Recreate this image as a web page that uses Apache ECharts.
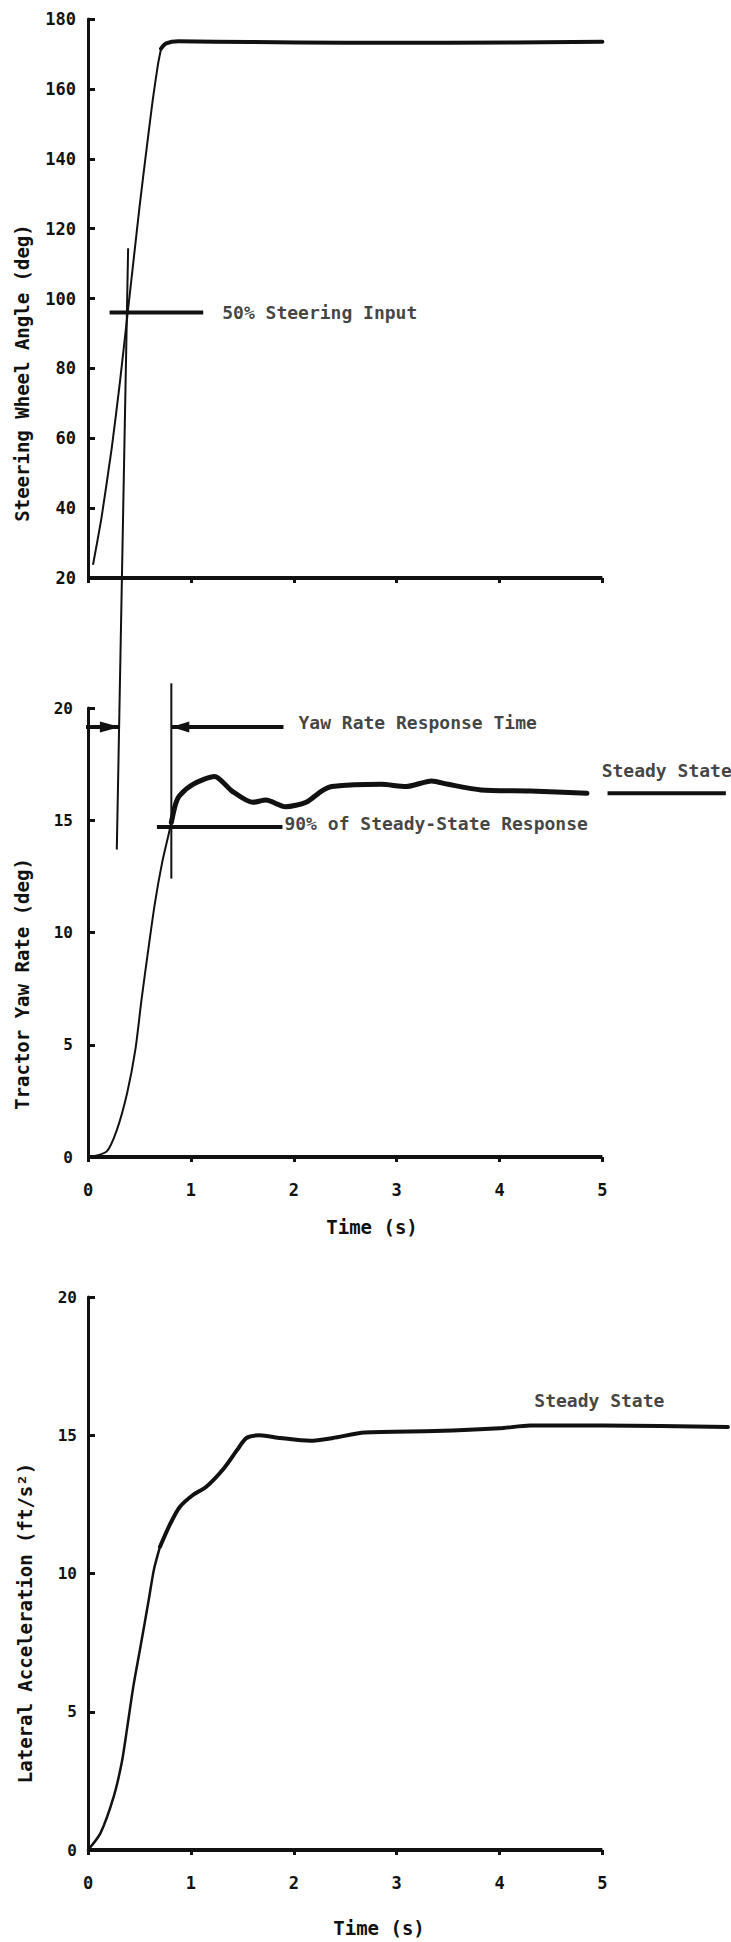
<!DOCTYPE html>
<html><head><meta charset="utf-8">
<script src="https://cdn.jsdelivr.net/npm/echarts@6/dist/echarts.min.js"></script>
<style>html,body{margin:0;padding:0;background:#fff}#c{width:731px;height:1942px}</style>
</head><body><div id="c"></div>
<script>
// ---- data ----
const timeTicks = [0, 1, 2, 3, 4, 5];
const timeRangeMax = 6.25;          // curves run past the last labelled tick
const steerTicks = [20, 40, 60, 80, 100, 120, 140, 160, 180];
const rateTicks = [0, 5, 10, 15, 20];

// Steering wheel angle (deg) vs time (s)
const steerTime  = [0.05, 0.13, 0.23, 0.31, 0.39, 0.50, 0.57, 0.63, 0.68, 0.71, 0.76, 0.88, 1.58, 2.5, 3.5, 5.0];
const steerAngle = [24, 37, 57, 76, 97, 126, 143, 157, 167, 171.5, 173, 173.6, 173.4, 173.2, 173.2, 173.5];
const steerSplit = 9;

// Tractor yaw rate (deg) vs time (s)
const yawTime = [0, 0.18, 0.28, 0.38, 0.46, 0.52, 0.59, 0.65, 0.72, 0.78, 0.81, 0.85, 0.89, 1.02, 1.23, 1.40, 1.60, 1.73, 1.92, 2.12, 2.27, 2.37, 2.85, 3.09, 3.34, 3.50, 3.82, 4.30, 4.85];
const yawRate = [0, 0.24, 1.2, 2.84, 4.77, 7.0, 9.37, 11.3, 13.1, 14.3, 14.9, 15.7, 16.1, 16.6, 16.95, 16.3, 15.8, 15.9, 15.6, 15.8, 16.3, 16.5, 16.6, 16.5, 16.75, 16.6, 16.35, 16.3, 16.2];
const yawSplit = 10;

// Lateral acceleration (ft/s^2) vs time (s)
const accTime = [0, 0.12, 0.25, 0.33, 0.38, 0.44, 0.51, 0.59, 0.64, 0.70, 0.80, 0.89, 1.02, 1.15, 1.32, 1.45, 1.54, 1.67, 1.87, 2.16, 2.38, 2.69, 3.37, 4.0, 4.3, 5.0, 6.22];
const accVal  = [0, 0.6, 1.93, 3.2, 4.4, 5.9, 7.35, 9.04, 10.13, 10.97, 11.8, 12.4, 12.84, 13.14, 13.8, 14.47, 14.9, 15.0, 14.9, 14.8, 14.9, 15.1, 15.15, 15.25, 15.35, 15.35, 15.3];
const accSplit = 9;

// Annotations (data units)
const halfSteerLevel = 96, halfSteerSpan = [0.21, 1.12];
const halfSteerMarkTop = [0.39, 114.4];   // on steering chart
const halfSteerMarkBottom = [0.28, 13.7]; // on yaw chart
const yaw90Level = 14.7, yaw90Span = [0.67, 1.89];
const responseTime = 0.81, responseSpan = [21.1, 12.4];
const arrowLevel = 19.15, leftArrowSpan = [-0.1, 0.31], rightArrowSpan = [1.9, 0.81];
const yawSteady = 16.2, yawSteadySpan = [5.05, 6.2];
const accSteadyLabelAt = [4.97, 16.27];

const labels = {
  half: '50% Steering Input',
  resp: 'Yaw Rate Response Time',
  ninety: '90% of Steady-State Response',
  steady: 'Steady State'
};

// ---- chart ----
const FONT = '"DejaVu Sans Mono", monospace';
const INK = '#111';
const zip = (a, b) => a.map((v, i) => [v, b[i]]);

function xAxisCfg(grid, showLabels) {
  return {
    type: 'value', gridIndex: grid, min: 0, max: timeRangeMax,
    axisLine: { show: false },
    axisTick: { show: true, inside: false, length: 5, customValues: timeTicks, lineStyle: { color: INK, width: 3 } },
    axisLabel: { show: showLabels, customValues: timeTicks, color: INK, fontFamily: FONT, fontSize: 17, fontWeight: 'bold', margin: 24 },
    splitLine: { show: false }
  };
}
function yAxisCfg(grid, ticks, interval, fs, margin) {
  return {
    type: 'value', gridIndex: grid, min: ticks[0], max: ticks[ticks.length - 1], interval: interval,
    axisLine: { show: true, lineStyle: { color: INK, width: 3 } },
    axisTick: { show: true, inside: true, length: 7, lineStyle: { color: INK, width: 3 } },
    axisLabel: { color: INK, fontFamily: FONT, fontSize: fs, fontWeight: 'bold', margin: margin },
    splitLine: { show: false }
  };
}
function curve(grid, data, width, smooth) {
  return {
    type: 'line', xAxisIndex: grid, yAxisIndex: grid, data: data,
    showSymbol: false, symbol: 'none', smooth: smooth, clip: false, silent: true,
    lineStyle: { color: INK, width: width, cap: 'round', join: 'round' }, z: 3
  };
}
function seg(grid, data, width) {
  return {
    type: 'line', xAxisIndex: grid, yAxisIndex: grid, data: data,
    showSymbol: true, symbol: 'none', clip: false, silent: true,
    itemStyle: { color: INK },
    lineStyle: { color: INK, width: width }, z: 4
  };
}
function textAt(grid, pt, text, position, distance, offset) {
  return {
    type: 'scatter', xAxisIndex: grid, yAxisIndex: grid, data: [pt],
    symbolSize: 0, clip: false, silent: true, itemStyle: { color: 'transparent' },
    label: {
      show: true, formatter: text, position: position, distance: distance, offset: offset || [0, 0],
      color: INK, fontFamily: FONT, fontSize: 18, fontWeight: 'bold'
    }, z: 5
  };
}
const tEnd = timeTicks[timeTicks.length - 1];

const chart = echarts.init(document.getElementById('c'), null, { renderer: 'svg' });

const option = {
  backgroundColor: '#fff',
  animation: false,
  grid: [
    { left: 88, top: 19, width: 643, height: 559, outerBoundsMode: 'none' },
    { left: 88, top: 708, width: 643, height: 449, outerBoundsMode: 'none' },
    { left: 88, top: 1297, width: 643, height: 553, outerBoundsMode: 'none' }
  ],
  xAxis: [xAxisCfg(0, false), xAxisCfg(1, true), xAxisCfg(2, true)],
  yAxis: [
    yAxisCfg(0, steerTicks, 20, 17, 12),
    yAxisCfg(1, rateTicks, 5, 16, 15),
    yAxisCfg(2, rateTicks, 5, 16, 11)
  ],
  series: [
    // steering chart
    seg(0, [[0, steerTicks[0]], [tEnd, steerTicks[0]]], 4),
    curve(0, zip(steerTime.slice(0, steerSplit + 1), steerAngle.slice(0, steerSplit + 1)), 2, 0.15),
    curve(0, zip(steerTime.slice(steerSplit), steerAngle.slice(steerSplit)), 4, 0.3),
    seg(0, [[halfSteerSpan[0], halfSteerLevel], [halfSteerSpan[1], halfSteerLevel]], 4),
    textAt(0, [halfSteerSpan[1], halfSteerLevel], labels.half, 'right', 19),

    // yaw chart
    seg(1, [[0, rateTicks[0]], [tEnd, rateTicks[0]]], 4),
    curve(1, zip(yawTime.slice(0, yawSplit + 1), yawRate.slice(0, yawSplit + 1)), 2, 0.25),
    curve(1, zip(yawTime.slice(yawSplit), yawRate.slice(yawSplit)), 5, 0.25),
    seg(1, [[yaw90Span[0], yaw90Level], [yaw90Span[1], yaw90Level]], 4),
    textAt(1, [yaw90Span[1], yaw90Level], labels.ninety, 'right', 2, [0, -3]),
    seg(1, [[responseTime, responseSpan[0]], [responseTime, responseSpan[1]]], 2),
    seg(1, [
      [leftArrowSpan[0], arrowLevel],
      { value: [leftArrowSpan[1], arrowLevel], symbol: 'triangle', symbolSize: [11, 20], symbolRotate: -90, symbolOffset: [-10, 0] }
    ], 4),
    seg(1, [
      [rightArrowSpan[0], arrowLevel],
      { value: [rightArrowSpan[1], arrowLevel], symbol: 'triangle', symbolSize: [11, 18], symbolRotate: 90, symbolOffset: [9, 0] }
    ], 4),
    textAt(1, [rightArrowSpan[0], arrowLevel], labels.resp, 'right', 15, [0, -5]),
    seg(1, [[yawSteadySpan[0], yawSteady], [yawSteadySpan[1], yawSteady]], 4),
    textAt(1, [(yawSteadySpan[0] + yawSteadySpan[1]) / 2, yawSteady], labels.steady, 'top', 14),

    // lateral acceleration chart
    seg(2, [[0, rateTicks[0]], [tEnd, rateTicks[0]]], 4),
    curve(2, zip(accTime.slice(0, accSplit + 1), accVal.slice(0, accSplit + 1)), 2.5, 0.25),
    curve(2, zip(accTime.slice(accSplit), accVal.slice(accSplit)), 4, 0.25),
    textAt(2, accSteadyLabelAt, labels.steady, 'inside', 0)
  ]
};
chart.setOption(option);

// slanted 50%-steering time marker spanning both upper charts, placed through the axes' scales
const pTop = chart.convertToPixel({ gridIndex: 0 }, halfSteerMarkTop);
const pBot = chart.convertToPixel({ gridIndex: 1 }, halfSteerMarkBottom);

function axisName(text, x, y, rot) {
  return {
    type: 'text', x: x, y: y, rotation: rot, silent: true,
    style: { text: text, fill: INK, font: 'bold 19px ' + FONT, textAlign: 'center', textVerticalAlign: 'middle' }
  };
}

chart.setOption({
  graphic: [
    { type: 'line', silent: true, z: 4,
      shape: { x1: pTop[0], y1: pTop[1], x2: pBot[0], y2: pBot[1] },
      style: { stroke: INK, lineWidth: 2 } },
    axisName('Steering Wheel Angle (deg)', 22, 373, Math.PI / 2),
    axisName('Tractor Yaw Rate (deg)', 22, 984, Math.PI / 2),
    axisName('Lateral Acceleration (ft/s²)', 25, 1623, Math.PI / 2),
    axisName('Time (s)', 372, 1227, 0),
    axisName('Time (s)', 379, 1928, 0)
  ]
});
</script>
</body></html>
